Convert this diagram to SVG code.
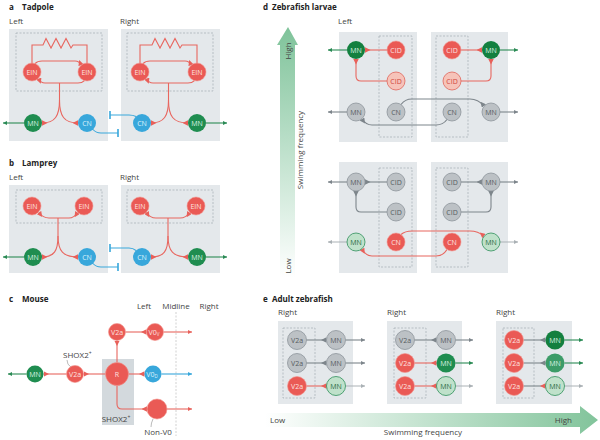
<svg xmlns="http://www.w3.org/2000/svg" width="600" height="440" viewBox="0 0 600 440">
<style>
.box{fill:#e4e8eb}
.shade{fill:#d3d9dd}
.dash{fill:none;stroke:#98a1a8;stroke-width:0.6;stroke-dasharray:2 1.5}
.red{fill:#ea5a55;stroke:#f2938d;stroke-width:0.6}
.grn{fill:#1f8d50}
.dgr{fill:#13803f}
.mgr{fill:#3c9c68}
.blu{fill:#38a7db}
.gry{fill:#bcc1c5;stroke:#8d949a;stroke-width:0.8}
.pnk{fill:#f6c3b9;stroke:#df655b;stroke-width:0.8}
.lgr{fill:#bfe1ca;stroke:#2f8f5a;stroke-width:0.8}
.n{font-family:"Open Sans","Liberation Sans",sans-serif;font-size:7px;text-anchor:middle}
.tw{fill:#fde3e0}
.tg{fill:#d9f1e1}
.tb{fill:#dcf2fb}
.tk{fill:#565c61}
.tp{fill:#cf443c}
.tl{fill:#2b6b44}
.lab{font-family:"Open Sans","Liberation Sans",sans-serif;font-size:8px;fill:#444}
.ttl{font-family:"Open Sans","Liberation Sans",sans-serif;font-size:8px;font-weight:700;fill:#222}
.cr{fill:none;stroke:#e8665f;stroke-width:1.1}
.cg{fill:none;stroke:#7d858b;stroke-width:1.1}
.cgl{fill:none;stroke:#aab1b5;stroke-width:1}
.cgn{fill:none;stroke:#2a8a55;stroke-width:1.1}
.cb{fill:none;stroke:#38a7db;stroke-width:1.1}
.lead{fill:none;stroke:#777;stroke-width:0.5}
</style>
<defs>
<marker id="wR" viewBox="0 0 5 5" refX="5" refY="2.5" markerWidth="5.5" markerHeight="5.5" markerUnits="userSpaceOnUse" orient="auto-start-reverse"><path d="M0,2.5 L5,0 L5,5 Z" fill="#e8605a"/></marker>
<marker id="wG" viewBox="0 0 5 5" refX="5" refY="2.5" markerWidth="5.5" markerHeight="5.5" markerUnits="userSpaceOnUse" orient="auto-start-reverse"><path d="M0,2.5 L5,0 L5,5 Z" fill="#7d858b"/></marker>
<marker id="aGn" viewBox="0 0 4 4" refX="4" refY="2" markerWidth="4" markerHeight="4" markerUnits="userSpaceOnUse" orient="auto"><path d="M0,0 L4,2 L0,4 Z" fill="#2a8a55"/></marker>
<marker id="aGy" viewBox="0 0 4 4" refX="4" refY="2" markerWidth="4" markerHeight="4" markerUnits="userSpaceOnUse" orient="auto"><path d="M0,0 L4,2 L0,4 Z" fill="#7d858b"/></marker>
<marker id="aLt" viewBox="0 0 4 4" refX="4" refY="2" markerWidth="4" markerHeight="4" markerUnits="userSpaceOnUse" orient="auto"><path d="M0,0 L4,2 L0,4 Z" fill="#aab1b5"/></marker>
<marker id="aRd" viewBox="0 0 4 4" refX="4" refY="2" markerWidth="4" markerHeight="4" markerUnits="userSpaceOnUse" orient="auto"><path d="M0,0 L4,2 L0,4 Z" fill="#e8605a"/></marker>
<marker id="aBl" viewBox="0 0 4 4" refX="4" refY="2" markerWidth="4" markerHeight="4" markerUnits="userSpaceOnUse" orient="auto"><path d="M0,0 L4,2 L0,4 Z" fill="#38a7db"/></marker>
<marker id="bar" viewBox="0 0 1.6 8" refX="0.8" refY="4" markerWidth="1.6" markerHeight="8" markerUnits="userSpaceOnUse" orient="auto"><rect width="1.6" height="8" fill="#38a7db"/></marker>
<linearGradient id="gV" x1="0" y1="0" x2="0" y2="1"><stop offset="0" stop-color="#7fc39a"/><stop offset="1" stop-color="#ffffff"/></linearGradient>
<linearGradient id="gH" x1="0" y1="0" x2="1" y2="0"><stop offset="0" stop-color="#ffffff"/><stop offset="1" stop-color="#82c49b"/></linearGradient>
</defs>

<g id="labels">
<text class="ttl" x="9" y="10">a</text><text class="ttl" x="22" y="10">Tadpole</text>
<text class="lab" x="9" y="24">Left</text><text class="lab" x="120" y="24">Right</text>
<text class="ttl" x="9" y="166">b</text><text class="ttl" x="22" y="166">Lamprey</text>
<text class="lab" x="9" y="180">Left</text><text class="lab" x="120" y="180">Right</text>
<text class="ttl" x="9" y="302">c</text><text class="ttl" x="22" y="302">Mouse</text>
<text class="lab" x="144" y="309" text-anchor="middle">Left</text>
<text class="lab" x="176" y="309" text-anchor="middle">Midline</text>
<text class="lab" x="209" y="309" text-anchor="middle">Right</text>
<text class="ttl" x="263" y="10">d</text><text class="ttl" x="272" y="10">Zebrafish larvae</text>
<text class="lab" x="338" y="24">Left</text>
<text class="ttl" x="263" y="302">e</text><text class="ttl" x="272" y="302">Adult zebrafish</text>
<text class="lab" x="278" y="315">Right</text>
<text class="lab" x="387" y="315">Right</text>
<text class="lab" x="496" y="315">Right</text>
</g>

<g id="backgrounds">
<rect class="box" x="9" y="29" width="99" height="112"/>
<rect class="box" x="121" y="29" width="99" height="112"/>
<rect class="dash" x="16" y="33" width="86" height="58"/>
<rect class="dash" x="127" y="33" width="86" height="58"/>
<rect class="box" x="9" y="185" width="99" height="88"/>
<rect class="box" x="121" y="185" width="99" height="88"/>
<rect class="dash" x="16" y="190" width="86" height="33"/>
<rect class="dash" x="127" y="190" width="86" height="33"/>
<rect class="shade" x="102" y="359" width="32" height="66"/>
<line x1="176" y1="312" x2="176" y2="436" stroke="#bdbdbd" stroke-width="0.7" stroke-dasharray="2 1.5"/>
<rect class="box" x="339" y="32" width="78" height="110"/>
<rect class="box" x="431" y="32" width="77" height="110"/>
<rect class="dash" x="379" y="36" width="33" height="101"/>
<rect class="dash" x="436" y="36" width="32" height="101"/>
<rect class="box" x="339" y="162" width="78" height="111"/>
<rect class="box" x="431" y="162" width="77" height="111"/>
<rect class="dash" x="379" y="168" width="33" height="99"/>
<rect class="dash" x="436" y="168" width="32" height="99"/>
<rect class="box" x="278" y="321" width="75" height="83"/>
<rect class="box" x="387" y="321" width="75" height="83"/>
<rect class="box" x="496" y="321" width="76" height="83"/>
<rect class="dash" x="283" y="328" width="32" height="70"/>
<rect class="dash" x="394" y="328" width="32" height="70"/>
<rect class="dash" x="503" y="328" width="31" height="70"/>
</g>

<g id="freq-d">
<polygon points="288,27 298,45 295,45 295,278 280,278 280,45 277,45" fill="url(#gV)"/>
<text class="lab" transform="translate(291,51) rotate(-90)" text-anchor="middle">High</text>
<text class="lab" transform="translate(291,266) rotate(-90)" text-anchor="middle">Low</text>
<text class="lab" transform="translate(303,150) rotate(-90)" text-anchor="middle">Swimming frequency</text>
</g>
<g id="freq-e">
<polygon points="265,413 580,413 580,406 598,420 580,434 580,427 265,427" fill="url(#gH)"/>
<text class="lab" x="270" y="423">Low</text>
<text class="lab" x="572" y="423" text-anchor="end">High</text>
<text class="lab" x="423" y="435" text-anchor="middle">Swimming frequency</text>
</g>

<g id="connectors">
<path class="cr" d="M32,63 V45 H43 L46,38.5 L51,48 L56,38.5 L61,48 L66,38.5 L71,48 L73,45 H87 V63"/>
<path class="cr" d="M35,63.6 Q37.5,61 42,61 H75 Q79.5,61 81,65.2" marker-end="url(#wR)"/>
<path class="cr" d="M84.5,80.6 Q82,83 78,83 H45 Q40.5,83 38.8,78.6" marker-end="url(#wR)"/>
<path class="cr" d="M59.5,83 V100"/>
<path class="cr" d="M59.5,100 C59.5,116 55,123 42,123" marker-end="url(#wR)"/>
<path class="cr" d="M59.5,100 C59.5,116 64,123 78,123" marker-end="url(#wR)"/>
<path class="cgn" d="M24,123 H3" marker-end="url(#aGn)"/>
<path class="cb" d="M93,129.5 Q96,133 101,133 H118" marker-end="url(#bar)"/>
<path class="cr" d="M140,63 V45 H152 L155,38.5 L160,48 L165,38.5 L170,48 L175,38.5 L180,48 L182,45 H197 V63"/>
<path class="cr" d="M143,63.6 Q145.5,61 150,61 H185 Q189.5,61 191,65.2" marker-end="url(#wR)"/>
<path class="cr" d="M194.5,80.6 Q192,83 188,83 H153 Q148.5,83 146.8,78.6" marker-end="url(#wR)"/>
<path class="cr" d="M168.5,83 V100"/>
<path class="cr" d="M168.5,100 C168.5,116 164,123 151,123" marker-end="url(#wR)"/>
<path class="cr" d="M168.5,100 C168.5,116 173,123 188,123" marker-end="url(#wR)"/>
<path class="cgn" d="M206,123 H227" marker-end="url(#aGn)"/>
<path class="cb" d="M136,116.5 Q133,115 129,115 H110" marker-end="url(#bar)"/>
<path class="cr" d="M39,212.5 Q43,218 49,218 H69 Q74,218 77.5,212.5" marker-start="url(#wR)" marker-end="url(#wR)"/>
<path class="cr" d="M58,218 V236"/>
<path class="cr" d="M58,236 C58,251 54,257 42,257" marker-end="url(#wR)"/>
<path class="cr" d="M58,236 C58,251 63,257 78,257" marker-end="url(#wR)"/>
<path class="cgn" d="M24,257 H3" marker-end="url(#aGn)"/>
<path class="cb" d="M93,263.5 Q96,267 101,267 H118" marker-end="url(#bar)"/>
<path class="cr" d="M146.5,212.5 Q150,218 156,218 H180 Q186,218 189.5,212.5" marker-start="url(#wR)" marker-end="url(#wR)"/>
<path class="cr" d="M168,218 V236"/>
<path class="cr" d="M168,236 C168,251 164,257 151,257" marker-end="url(#wR)"/>
<path class="cr" d="M168,236 C168,251 173,257 188,257" marker-end="url(#wR)"/>
<path class="cgn" d="M206,257 H227" marker-end="url(#aGn)"/>
<path class="cb" d="M136,250.5 Q133,248 129,248 H110" marker-end="url(#bar)"/>
<path class="cgn" d="M26.5,374 H8" marker-end="url(#aGn)"/>
<path class="cr" d="M66.5,374 H43.5" marker-end="url(#wR)"/>
<path class="cr" d="M105.5,374 H83.5" marker-end="url(#wR)"/>
<path class="cr" d="M117,362.5 V340.5" marker-end="url(#wR)"/>
<path class="cr" d="M125.5,332 H146.5" marker-end="url(#wR)"/>
<path class="cr" d="M163.5,332 H192" marker-end="url(#aRd)"/>
<path class="cr" d="M128.5,374 H144.5" marker-end="url(#wR)"/>
<path class="cb" d="M161.5,374 H192" marker-end="url(#aBl)"/>
<path class="cr" d="M117,385.5 V404 Q117,409 122,409 H147" marker-end="url(#wR)"/>
<path class="cr" d="M167,409 H192" marker-end="url(#aRd)"/>
<path class="lead" d="M67,360 Q67,365 71,367"/>
<path class="lead" d="M153,419 Q151,423 151,427"/>
<path class="cr" d="M387,50 H365" marker-end="url(#wR)"/>
<path class="cr" d="M387,81 H361 Q356,81 356,76 V59" marker-end="url(#wR)"/>
<path class="cr" d="M461,50 H482" marker-end="url(#wR)"/>
<path class="cr" d="M461,81 H486 Q491,81 491,76 V59" marker-end="url(#wR)"/>
<path class="cgn" d="M347,50 H328" marker-end="url(#aGn)"/>
<path class="cgn" d="M500,50 H518" marker-end="url(#aGn)"/>
<path class="cg" d="M401,104.5 Q405,99 412,99 H470 Q478,99 484,106" marker-end="url(#wG)"/>
<path class="cg" d="M447,119.5 Q443,125 436,125 H372 Q366,125 362,119" marker-end="url(#wG)"/>
<path class="cg" d="M347,112 H328" marker-end="url(#aGy)"/>
<path class="cg" d="M500,112 H518" marker-end="url(#aGy)"/>
<path class="cg" d="M387,182 H365" marker-end="url(#wG)"/>
<path class="cg" d="M387,212 H361 Q356,212 356,207 V191" marker-end="url(#wG)"/>
<path class="cg" d="M461,182 H482" marker-end="url(#wG)"/>
<path class="cg" d="M461,212 H486 Q491,212 491,207 V191" marker-end="url(#wG)"/>
<path class="cg" d="M347,182 H328" marker-end="url(#aGy)"/>
<path class="cg" d="M500,182 H518" marker-end="url(#aGy)"/>
<path class="cr" d="M401,234.5 Q405,231 412,231 H470 Q478,231 484,236" marker-end="url(#wR)"/>
<path class="cr" d="M447,249.5 Q443,256 436,256 H372 Q366,256 362,249" marker-end="url(#wR)"/>
<path class="cgl" d="M347,242 H328" marker-end="url(#aLt)"/>
<path class="cgl" d="M500,242 H518" marker-end="url(#aLt)"/>
<path class="cg" d="M306.5,340 H326.5" marker-end="url(#wG)"/>
<path class="cg" d="M306.5,363 H326.5" marker-end="url(#wG)"/>
<path class="cr" d="M306.5,386 H326.5" marker-end="url(#wR)"/>
<path class="cg" d="M345.5,340 H365" marker-end="url(#aGy)"/>
<path class="cg" d="M345.5,363 H365" marker-end="url(#aGy)"/>
<path class="cgl" d="M345.5,386 H365" marker-end="url(#aLt)"/>
<path class="cg" d="M414.5,340 H436.5" marker-end="url(#wG)"/>
<path class="cr" d="M414.5,363 H436.5" marker-end="url(#wR)"/>
<path class="cr" d="M414.5,386 H436.5" marker-end="url(#wR)"/>
<path class="cg" d="M455.5,340 H473" marker-end="url(#aGy)"/>
<path class="cgn" d="M455.5,363 H473" marker-end="url(#aGn)"/>
<path class="cgl" d="M455.5,386 H473" marker-end="url(#aLt)"/>
<path class="cg" d="M523.5,340 H545.5" marker-end="url(#wG)"/>
<path class="cg" d="M523.5,363 H545.5" marker-end="url(#wG)"/>
<path class="cg" d="M523.5,386 H545.5" marker-end="url(#wR)"/>
<path class="cgn" d="M564.5,340 H583" marker-end="url(#aGn)"/>
<path class="cgn" d="M564.5,363 H583" marker-end="url(#aGn)"/>
<path class="cgl" d="M564.5,386 H583" marker-end="url(#aLt)"/>
</g>

<g id="a-L-EIN1"><circle class="red" cx="32" cy="72" r="9"/><text class="n tw" x="32" y="74.5">EIN</text></g>
<g id="a-L-EIN2"><circle class="red" cx="87" cy="72" r="9"/><text class="n tw" x="87" y="74.5">EIN</text></g>
<g id="a-L-MN"><circle class="grn" cx="33" cy="123" r="9"/><text class="n tg" x="33" y="125.5">MN</text></g>
<g id="a-L-CN"><circle class="blu" cx="87" cy="123" r="9"/><text class="n tb" x="87" y="125.5">CN</text></g>
<g id="a-R-EIN1"><circle class="red" cx="140" cy="72" r="9"/><text class="n tw" x="140" y="74.5">EIN</text></g>
<g id="a-R-EIN2"><circle class="red" cx="197" cy="72" r="9"/><text class="n tw" x="197" y="74.5">EIN</text></g>
<g id="a-R-CN"><circle class="blu" cx="142" cy="123" r="9"/><text class="n tb" x="142" y="125.5">CN</text></g>
<g id="a-R-MN"><circle class="grn" cx="197" cy="123" r="9"/><text class="n tg" x="197" y="125.5">MN</text></g>

<g id="b-L-EIN1"><circle class="red" cx="32" cy="206" r="9"/><text class="n tw" x="32" y="208.5">EIN</text></g>
<g id="b-L-EIN2"><circle class="red" cx="84" cy="206" r="9"/><text class="n tw" x="84" y="208.5">EIN</text></g>
<g id="b-L-MN"><circle class="grn" cx="33" cy="257" r="9"/><text class="n tg" x="33" y="259.5">MN</text></g>
<g id="b-L-CN"><circle class="blu" cx="87" cy="257" r="9"/><text class="n tb" x="87" y="259.5">CN</text></g>
<g id="b-R-EIN1"><circle class="red" cx="140" cy="206" r="9"/><text class="n tw" x="140" y="208.5">EIN</text></g>
<g id="b-R-EIN2"><circle class="red" cx="196" cy="206" r="9"/><text class="n tw" x="196" y="208.5">EIN</text></g>
<g id="b-R-CN"><circle class="blu" cx="142" cy="257" r="9"/><text class="n tb" x="142" y="259.5">CN</text></g>
<g id="b-R-MN"><circle class="grn" cx="197" cy="257" r="9"/><text class="n tg" x="197" y="259.5">MN</text></g>

<g id="c-MN"><circle class="grn" cx="35" cy="374" r="8.5"/><text class="n tg" x="35" y="376.5">MN</text></g>
<g id="c-V2a"><circle class="red" cx="75" cy="374" r="8.5"/><text class="n tw" x="75" y="376.5">V2a</text>
<text class="lab" x="63" y="358" font-size="7.5">SHOX2<tspan font-size="5" dy="-3">+</tspan></text></g>
<g id="c-R"><circle class="red" cx="117" cy="374" r="11.5"/><text class="n tw" x="117" y="376.7" font-size="7.5">R</text>
<text class="lab" x="116" y="422" text-anchor="middle" font-size="7.5">SHOX2<tspan font-size="5" dy="-3">+</tspan></text></g>
<g id="c-V2a-top"><circle class="red" cx="117" cy="332" r="8.5"/><text class="n tw" x="117" y="334.5">V2a</text></g>
<g id="c-V0v"><circle class="red" cx="155" cy="332" r="8.5"/><text class="n tw" x="154" y="334.5">V0<tspan font-size="4.5" dy="1.5">V</tspan></text></g>
<g id="c-V0d"><circle class="blu" cx="153" cy="374" r="8.5"/><text class="n tb" x="152" y="376.5">V0<tspan font-size="4.5" dy="1.5">D</tspan></text></g>
<g id="c-NonV0"><circle class="red" cx="157" cy="409" r="10"/><text class="lab" x="158" y="435" text-anchor="middle">Non-V0</text></g>

<g id="d-T-MN-L"><circle class="dgr" cx="356" cy="50" r="9"/><text class="n tg" x="356" y="52.5">MN</text></g>
<g id="d-T-CID1-L"><circle class="red" cx="396" cy="50" r="9"/><text class="n tw" x="396" y="52.5">CID</text></g>
<g id="d-T-CID2-L"><circle class="pnk" cx="396" cy="81" r="9"/><text class="n tp" x="396" y="83.5">CID</text></g>
<g id="d-T-CID1-R"><circle class="red" cx="452" cy="50" r="9"/><text class="n tw" x="452" y="52.5">CID</text></g>
<g id="d-T-CID2-R"><circle class="pnk" cx="452" cy="81" r="9"/><text class="n tp" x="452" y="83.5">CID</text></g>
<g id="d-T-MN-R"><circle class="dgr" cx="491" cy="50" r="9"/><text class="n tg" x="491" y="52.5">MN</text></g>
<g id="d-M-MN-L"><circle class="gry" cx="356" cy="112" r="9"/><text class="n tk" x="356" y="114.5">MN</text></g>
<g id="d-M-CN-L"><circle class="gry" cx="396" cy="112" r="9"/><text class="n tk" x="396" y="114.5">CN</text></g>
<g id="d-M-CN-R"><circle class="gry" cx="452" cy="112" r="9"/><text class="n tk" x="452" y="114.5">CN</text></g>
<g id="d-M-MN-R"><circle class="gry" cx="491" cy="112" r="9"/><text class="n tk" x="491" y="114.5">MN</text></g>
<g id="d-B-MN1-L"><circle class="gry" cx="356" cy="182" r="9"/><text class="n tk" x="356" y="184.5">MN</text></g>
<g id="d-B-CID1-L"><circle class="gry" cx="396" cy="182" r="9"/><text class="n tk" x="396" y="184.5">CID</text></g>
<g id="d-B-CID2-L"><circle class="gry" cx="396" cy="212" r="9"/><text class="n tk" x="396" y="214.5">CID</text></g>
<g id="d-B-CID1-R"><circle class="gry" cx="452" cy="182" r="9"/><text class="n tk" x="452" y="184.5">CID</text></g>
<g id="d-B-CID2-R"><circle class="gry" cx="452" cy="212" r="9"/><text class="n tk" x="452" y="214.5">CID</text></g>
<g id="d-B-MN1-R"><circle class="gry" cx="491" cy="182" r="9"/><text class="n tk" x="491" y="184.5">MN</text></g>
<g id="d-B-MN2-L"><circle class="lgr" cx="356" cy="242" r="9"/><text class="n tl" x="356" y="244.5">MN</text></g>
<g id="d-B-CN-L"><circle class="red" cx="396" cy="242" r="9"/><text class="n tw" x="396" y="244.5">CN</text></g>
<g id="d-B-CN-R"><circle class="red" cx="452" cy="242" r="9"/><text class="n tw" x="452" y="244.5">CN</text></g>
<g id="d-B-MN2-R"><circle class="lgr" cx="491" cy="242" r="9"/><text class="n tl" x="491" y="244.5">MN</text></g>

<g id="e1-V2a-1"><circle class="gry" cx="297" cy="340" r="9.5"/><text class="n tk" x="297" y="342.5">V2a</text></g>
<g id="e1-MN-1"><circle class="gry" cx="336" cy="340" r="9.5"/><text class="n tk" x="336" y="342.5">MN</text></g>
<g id="e1-V2a-2"><circle class="gry" cx="297" cy="363" r="9.5"/><text class="n tk" x="297" y="365.5">V2a</text></g>
<g id="e1-MN-2"><circle class="gry" cx="336" cy="363" r="9.5"/><text class="n tk" x="336" y="365.5">MN</text></g>
<g id="e1-V2a-3"><circle class="red" cx="297" cy="386" r="9.5"/><text class="n tw" x="297" y="388.5">V2a</text></g>
<g id="e1-MN-3"><circle class="lgr" cx="336" cy="386" r="9.5"/><text class="n tl" x="336" y="388.5">MN</text></g>
<g id="e2-V2a-1"><circle class="gry" cx="405" cy="340" r="9.5"/><text class="n tk" x="405" y="342.5">V2a</text></g>
<g id="e2-MN-1"><circle class="gry" cx="446" cy="340" r="9.5"/><text class="n tk" x="446" y="342.5">MN</text></g>
<g id="e2-V2a-2"><circle class="red" cx="405" cy="363" r="9.5"/><text class="n tw" x="405" y="365.5">V2a</text></g>
<g id="e2-MN-2"><circle class="grn" cx="446" cy="363" r="9.5"/><text class="n tg" x="446" y="365.5">MN</text></g>
<g id="e2-V2a-3"><circle class="red" cx="405" cy="386" r="9.5"/><text class="n tw" x="405" y="388.5">V2a</text></g>
<g id="e2-MN-3"><circle class="lgr" cx="446" cy="386" r="9.5"/><text class="n tl" x="446" y="388.5">MN</text></g>
<g id="e3-V2a-1"><circle class="red" cx="514" cy="340" r="9.5"/><text class="n tw" x="514" y="342.5">V2a</text></g>
<g id="e3-MN-1"><circle class="dgr" cx="555" cy="340" r="9.5"/><text class="n tg" x="555" y="342.5">MN</text></g>
<g id="e3-V2a-2"><circle class="red" cx="514" cy="363" r="9.5"/><text class="n tw" x="514" y="365.5">V2a</text></g>
<g id="e3-MN-2"><circle class="mgr" cx="555" cy="363" r="9.5"/><text class="n tg" x="555" y="365.5">MN</text></g>
<g id="e3-V2a-3"><circle class="red" cx="514" cy="386" r="9.5"/><text class="n tw" x="514" y="388.5">V2a</text></g>
<g id="e3-MN-3"><circle class="lgr" cx="555" cy="386" r="9.5"/><text class="n tl" x="555" y="388.5">MN</text></g>
</svg>
